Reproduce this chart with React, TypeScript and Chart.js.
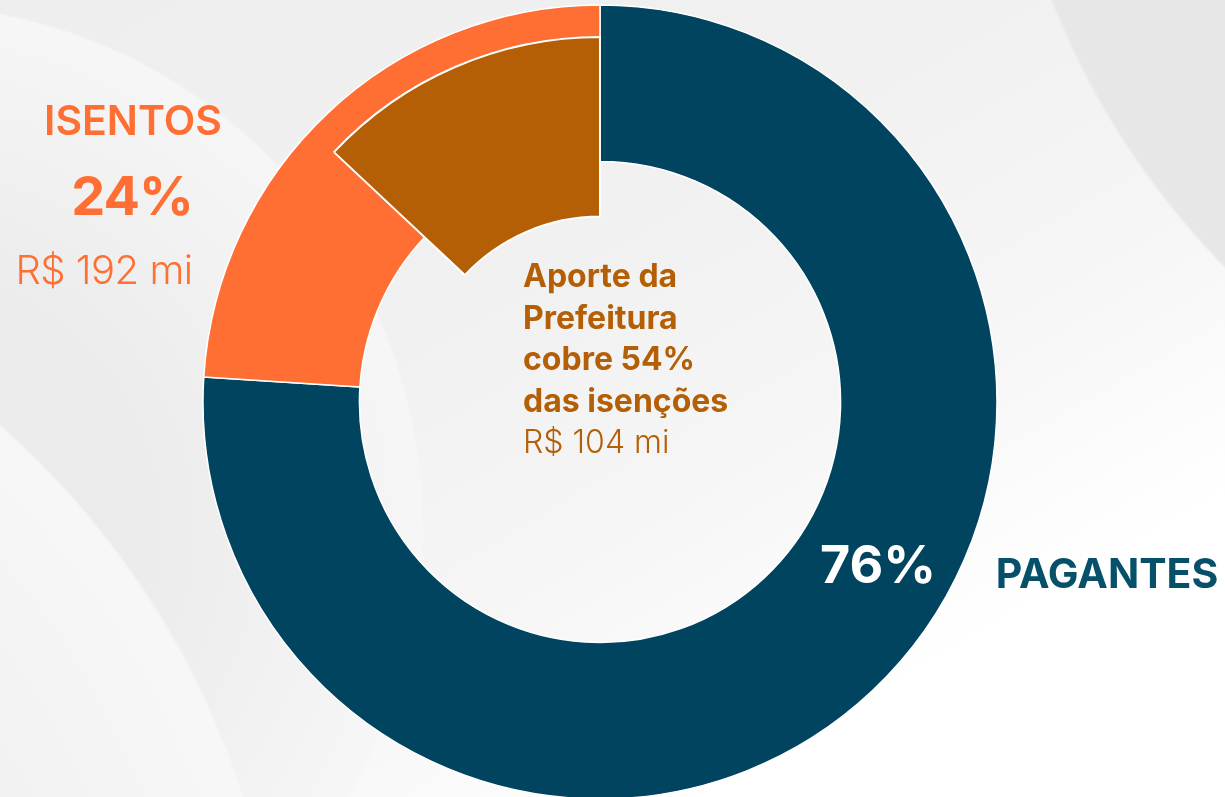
import React, { useEffect, useRef } from "react";
import { Chart, registerables } from "chart.js";

Chart.register(...registerables);

// ---- data ----
const categories = ["PAGANTES", "ISENTOS"];
const shares = [76, 24];
const shareColors = ["#01445F", "#FF6E33"];
const subsidyLabels = ["Resto", "Aporte da Prefeitura"];
const subsidyShares = [87, 13];
const subsidyColors = ["rgba(0,0,0,0)", "#B45F06"];
const isentosLines = ["ISENTOS", "24%", "R$ 192 mi"];
const aporteLines = ["Aporte da", "Prefeitura", "cobre 54%", "das isenções"];
const aporteValue = "R$ 104 mi";
const pagantesLabels = ["76%", "PAGANTES"];

const W = 1225;
const H = 797;
const FONT = "Inter, 'Noto Sans', sans-serif";

function makeChart(
  canvas: HTMLCanvasElement,
  labels: string[],
  data: number[],
  colors: string[],
  borderWidths: number[],
  radius: number,
  cutout: string
) {
  return new Chart(canvas, {
    type: "doughnut",
    data: {
      labels,
      datasets: [
        {
          data,
          backgroundColor: colors,
          borderColor: "#ffffff",
          borderWidth: borderWidths,
          hoverOffset: 0,
        },
      ],
    },
    options: {
      responsive: false,
      animation: false,
      devicePixelRatio: 1,
      radius,
      cutout,
      rotation: 0,
      layout: { padding: { left: 0, right: 25, top: 7, bottom: 0 } },
      plugins: {
        legend: { display: false },
        tooltip: { enabled: false },
      },
    },
  });
}

export default function App() {
  const ref1 = useRef<HTMLCanvasElement>(null);
  const ref2 = useRef<HTMLCanvasElement>(null);

  useEffect(() => {
    const c1 = makeChart(ref1.current!, categories, shares, shareColors, [1.5, 1.5], 397, "60.6%");
    const c2 = makeChart(ref2.current!, subsidyLabels, subsidyShares, subsidyColors, [0, 2], 365, "50.8%");
    return () => {
      c1.destroy();
      c2.destroy();
    };
  }, []);

  const bg = [
    "radial-gradient(circle 806px at 1800px -295px, #E6E6E6 0%, #E7E7E7 99.6%, rgba(0,0,0,0) 100%)",
    "radial-gradient(circle 834px at -550px 1050px, #EFEFEF 60%, #F7F7F7 99.6%, rgba(0,0,0,0) 100%)",
    "radial-gradient(circle 524px at -100px 527px, #EBEBEB 45%, #F6F6F6 99.5%, rgba(0,0,0,0) 100%)",
    "linear-gradient(150deg, #EEEEEE 0%, #F1F1F1 40%, #F6F6F6 60%, #FFFFFF 80%)",
  ].join(", ");

  const canvasStyle: React.CSSProperties = {
    position: "absolute",
    left: 0,
    top: 0,
    width: W,
    height: H,
  };

  return (
    <div
      style={{
        position: "fixed",
        left: 0,
        top: 0,
        width: W,
        height: H,
        overflow: "hidden",
        background: bg,
      }}
    >
      <canvas ref={ref1} width={W} height={H} style={canvasStyle} />
      <canvas ref={ref2} width={W} height={H} style={canvasStyle} />
      <svg
        width={W}
        height={H}
        style={{ position: "absolute", left: 0, top: 0, pointerEvents: "none" }}
        fontFamily={FONT}
      >
        <text x={133} y={135} textAnchor="middle" fontSize={41} fontWeight={600} fill="#FF6E33">
          {isentosLines[0]}
        </text>
        <text x={132} y={215} textAnchor="middle" fontSize={54} fontWeight={700} fill="#FF6E33" letterSpacing={-1}>
          {isentosLines[1]}
        </text>
        <text x={104} y={284} textAnchor="middle" fontSize={40} fontWeight={300} fill="#FF6E33" letterSpacing={-0.5}>
          {isentosLines[2]}
        </text>
        {aporteLines.map((t, i) => (
          <text key={t} x={523} y={287 + i * 41.5} fontSize={32} fontWeight={700} fill="#B45F06">
            {t}
          </text>
        ))}
        <text x={523} y={453} fontSize={32} fontWeight={300} fill="#B45F06">
          {aporteValue}
        </text>
        <text x={878} y={583} textAnchor="middle" fontSize={52} fontWeight={700} fill="#FFFFFF">
          {pagantesLabels[0]}
        </text>
        <text x={1107} y={588} textAnchor="middle" fontSize={41} fontWeight={700} fill="#06506A">
          {pagantesLabels[1]}
        </text>
      </svg>
    </div>
  );
}
